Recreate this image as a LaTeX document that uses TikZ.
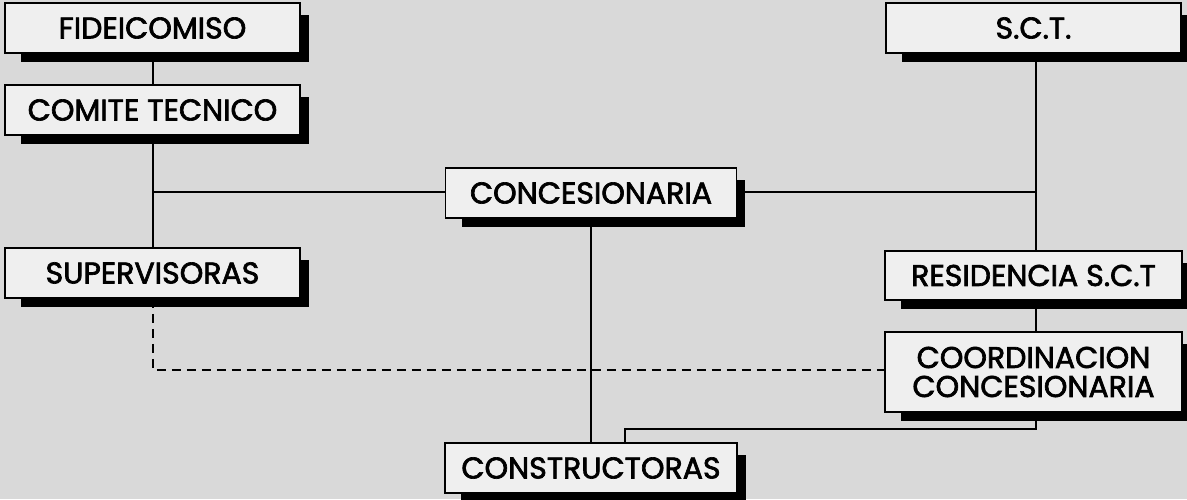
\documentclass[tikz,border=0pt]{standalone}
\usepackage{fontspec}
\setmainfont{Poppins}
\newfontfamily\boxfont{Poppins}[FakeBold=2.2]
\definecolor{bg}{HTML}{D9D9D9}
\definecolor{boxfill}{HTML}{EFEFEF}
\pgfdeclarelayer{bglayer}
\pgfdeclarelayer{shadowlayer}
\pgfsetlayers{bglayer,shadowlayer,main}
\tikzset{
  orgbox/.style={draw=black, line width=1.5pt, fill=boxfill, minimum width=295pt, minimum height=50pt,
    inner sep=0pt, align=center, font=\boxfont\fontsize{30}{31}\selectfont},
  shadowbox/.style={fill=black},
  link/.style={line width=1.7pt, draw=black},
  dlink/.style={line width=1.7pt, draw=black, dash pattern=on 9pt off 6pt}
}
\newcommand{\boxshadow}[1]{\fill[shadowbox] ([shift={(17,13)}]#1.north west) rectangle ([shift={(8,8.5)}]#1.south east);}
\begin{document}
\begin{tikzpicture}[x=1pt,y=-1pt]
\begin{pgfonlayer}{bglayer}
\fill[bg] (0,0) rectangle (1187,499);
\end{pgfonlayer}
\useasboundingbox (0,0) rectangle (1187,499);
\coordinate (jl) at (153,192);
\coordinate (jr) at (1036,192);
\coordinate (dc) at (153,370);
\coordinate (de) at (885,370);
\coordinate (cb) at (1036,429);
\coordinate (ct) at (625,429);
\coordinate (ctt) at (625,443);
\node[orgbox] (fid) at (152.5,28) {FIDEICOMISO};
\node[orgbox] (com) at (152.5,110) {COMITE TECNICO};
\node[orgbox] (sup) at (152.5,273) {SUPERVISORAS};
\node[orgbox, minimum width=291pt] (con) at (591,193) {CONCESIONARIA};
\node[orgbox, minimum width=292pt] (cons) at (591,468) {CONSTRUCTORAS};
\node[orgbox] (sct) at (1033.5,28) {S.C.T.};
\node[orgbox, minimum width=297pt, minimum height=49pt] (res) at (1033.5,275.5) {RESIDENCIA S.C.T};
\node[orgbox, minimum width=297pt, minimum height=80pt, font=\boxfont\fontsize{30}{29}\selectfont] (coo) at (1033.5,372) {COORDINACION\\CONCESIONARIA};
\begin{pgfonlayer}{shadowlayer}
\foreach \n in {fid,com,sup,con,cons,sct,res,coo} {\boxshadow{\n}}
\draw[link] (fid.south -| jl) -- (com.north -| jl);
\draw[link] (com.south -| jl) -- (sup.north -| jl);
\draw[link] (jl) -- (jl -| con.west);
\draw[link] (jr -| con.east) -- (jr);
\draw[link] (sct.south -| jr) -- (res.north -| jr);
\draw[link] (res.south -| jr) -- (coo.north -| jr);
\draw[link] (con.south) -- (cons.north);
\draw[link] (coo.south -| cb) -- (cb) -- (ct) -- (ctt);
\draw[dlink] (sup.south -| dc) -- (dc) -- (de);
\end{pgfonlayer}
\end{tikzpicture}
\end{document}
